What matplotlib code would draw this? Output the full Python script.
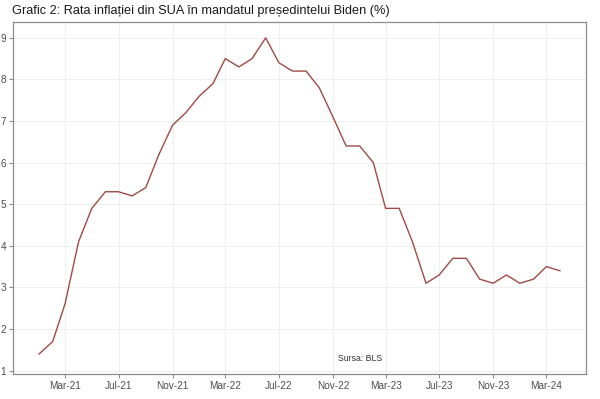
import matplotlib
matplotlib.use("Agg")
import matplotlib.pyplot as plt
import matplotlib.dates as mdates
import pandas as pd
import numpy as np

plt.rcParams['font.family'] = ['Liberation Sans', 'DejaVu Sans']

months = pd.date_range("2021-01-01", "2024-04-01", freq="MS")
inflation = [1.4, 1.7, 2.6, 4.1, 4.9, 5.3, 5.3, 5.2, 5.4, 6.2, 6.9, 7.2,
             7.6, 7.9, 8.5, 8.3, 8.5, 9.0, 8.4, 8.2, 8.2, 7.8, 7.1, 6.4,
             6.4, 6.0, 4.9, 4.9, 4.1, 3.1, 3.3, 3.7, 3.7, 3.2, 3.1, 3.3,
             3.1, 3.2, 3.5, 3.4]
title = "Grafic 2: Rata inflației din SUA în mandatul președintelui Biden (%)"
source_note = "Sursa: BLS"
source_pos = (pd.Timestamp("2023-01-01"), 1.3)
yticks = [1, 2, 3, 4, 5, 6, 7, 8, 9]

fig = plt.figure(figsize=(6.0, 3.99), dpi=100)
ax = fig.add_axes([0.0217, 0.0627, 0.955, 0.8822])

ax.plot(months, inflation, color="#A04A45", linewidth=1.0)

# ggplot-like 5% expansion
xnum = mdates.date2num(months)
xr = xnum.max() - xnum.min()
ax.set_xlim(xnum.min() - 0.05 * xr, xnum.max() + 0.05 * xr)
ymin, ymax = min(inflation), max(inflation)
yr = ymax - ymin
ax.set_ylim(ymin - 0.05 * yr - 0.1, ymax + 0.05 * yr)

ax.xaxis.set_major_locator(mdates.MonthLocator(bymonth=[3, 7, 11]))
ax.xaxis.set_major_formatter(mdates.DateFormatter("%b-%y"))
ax.set_yticks(yticks)

ax.grid(True, color="#ececec", linewidth=0.6)
ax.set_axisbelow(True)
for s in ax.spines.values():
    s.set_color("#8c8c8c")
    s.set_linewidth(0.9)
ax.tick_params(axis="both", colors="#8c8c8c", length=3, width=0.8,
               labelcolor="#4d4d4d", labelsize=7.2, pad=2)

ax.text(source_pos[0], source_pos[1], source_note, fontsize=6.3,
        color="#333333", ha="center", va="center")

fig.text(0.02, 0.973, title, fontsize=9.2, color="#1a1a1a", ha="left", va="center")

fig.savefig("out.png", dpi=100)
